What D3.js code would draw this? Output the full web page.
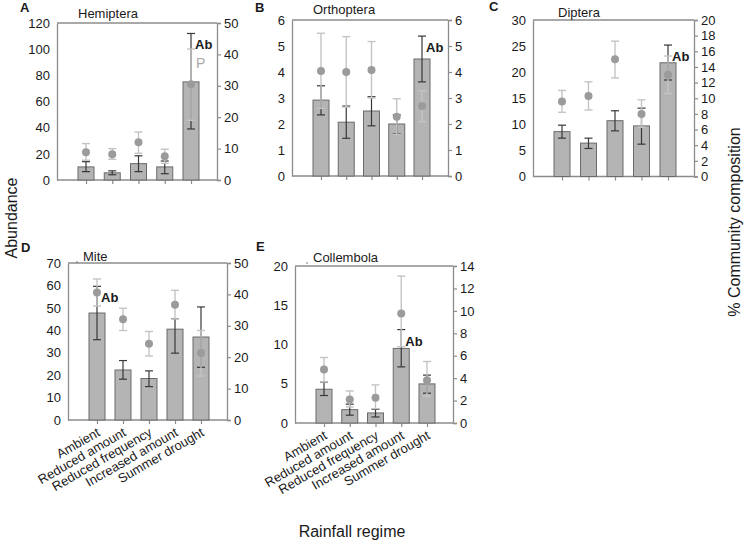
<!DOCTYPE html>
<html><head><meta charset="utf-8">
<script src="https://cdn.jsdelivr.net/npm/d3@7"></script>
<style>
body{margin:0;background:#fff;}
svg text{font-family:"Liberation Sans",Arial,sans-serif;fill:#1a1a1a;}
</style></head>
<body><svg id="c" width="750" height="545"></svg>
<script>
const categories = ["Ambient","Reduced amount","Reduced frequency","Increased amount","Summer drought"];

// Hemiptera
const hemiAbund = [10, 5.5, 12.5, 10, 75];
const hemiAbundLo = [6.4, 4, 6.4, 4.8, 39];
const hemiAbundHi = [14, 7, 18.5, 14.5, 112];
const hemiComp = [8.8, 8.2, 12, 7.6, 30.5];
const hemiCompLo = [6.3, 6.6, 8.5, 5.3, 19];
const hemiCompHi = [11.6, 10, 15.3, 9.8, 41.7];
// Orthoptera
const orthAbund = [2.92, 2.07, 2.5, 2.0, 4.5];
const orthAbundLo = [2.35, 1.45, 1.93, 1.62, 3.62];
const orthAbundHi = [3.47, 2.69, 3.05, 2.35, 5.38];
const orthComp = [4.04, 4.0, 4.08, 2.28, 2.69];
const orthCompLo = [2.6, 2.65, 3.0, 1.6, 2.09];
const orthCompHi = [5.49, 5.36, 5.17, 2.97, 3.28];
// Diptera
const dipAbund = [8.6, 6.4, 10.7, 9.7, 21.8];
const dipAbundLo = [7.35, 5.37, 8.75, 6.2, 18.5];
const dipAbundHi = [9.84, 7.35, 12.6, 13.1, 25.2];
const dipComp = [9.6, 10.3, 15.0, 8.0, 13.0];
const dipCompLo = [8.2, 8.5, 12.6, 6.3, 10.6];
const dipCompHi = [11.0, 12.1, 17.3, 9.8, 15.4];
// Mite
const miteAbund = [47.7, 22.3, 18.5, 40.5, 37];
const miteAbundLo = [35.8, 18.2, 14.9, 29.8, 23.5];
const miteAbundHi = [59.6, 26.5, 21.9, 45.2, 50.4];
const miteComp = [40.6, 32.1, 24.3, 36.7, 21.3];
const miteCompLo = [36.3, 28.5, 20.4, 32.2, 14.0];
const miteCompHi = [44.9, 35.6, 28.2, 41.3, 28.5];
// Collembola
const collAbund = [4.3, 1.7, 1.28, 9.5, 4.98];
const collAbundLo = [3.5, 1.0, 0.77, 7.15, 3.8];
const collAbundHi = [5.2, 2.4, 1.74, 11.9, 6.1];
const collComp = [4.77, 2.09, 2.26, 9.77, 3.81];
const collCompLo = [3.66, 1.43, 1.28, 6.8, 2.38];
const collCompHi = [5.84, 2.86, 3.4, 13.1, 5.48];

const titles = ["Hemiptera","Orthoptera","Diptera","Mite","Collembola"];
const letters = ["A","B","C","D","E"];
const leftMax = [120, 6, 30, 70, 20];
const leftStep = [20, 1, 5, 10, 5];
const rightMax = [50, 6, 20, 50, 14];
const rightStep = [10, 1, 2, 10, 2];
const abLabelBar = [4, 4, 4, 0, 3];

const panelsData = [
  {a:hemiAbund, alo:hemiAbundLo, ahi:hemiAbundHi, c:hemiComp, clo:hemiCompLo, chi:hemiCompHi},
  {a:orthAbund, alo:orthAbundLo, ahi:orthAbundHi, c:orthComp, clo:orthCompLo, chi:orthCompHi},
  {a:dipAbund, alo:dipAbundLo, ahi:dipAbundHi, c:dipComp, clo:dipCompLo, chi:dipCompHi},
  {a:miteAbund, alo:miteAbundLo, ahi:miteAbundHi, c:miteComp, clo:miteCompLo, chi:miteCompHi},
  {a:collAbund, alo:collAbundLo, ahi:collAbundHi, c:collComp, clo:collCompLo, chi:collCompHi}
];

// layout
const layout = [
  {x0:57, x1:217, y0:23, y1:180, tx:78, ty:18, lx:20, ly:12},
  {x0:292, x1:448, y0:20, y1:176, tx:313, ty:14, lx:255, ly:12},
  {x0:533, x1:694, y0:20, y1:176.5, tx:558, ty:17, lx:489, ly:11},
  {x0:68, x1:227, y0:263, y1:420, tx:83, ty:261, lx:21, ly:252},
  {x0:295, x1:453, y0:266, y1:423, tx:313, ty:262, lx:256, ly:251}
];

const svg = d3.select("#c");
const AX = "#8c8c8c";
const BARF = "#b4b4b4", BARS = "#6a6a6a";
const DARK = "#383838", LIGHT = "#c4c4c4", DOT = "#9b9b9b";
const fmt = d3.format("~g");

panelsData.forEach((d, p) => {
  const L = layout[p];
  const g = svg.append("g");
  const x = d3.scalePoint().domain(categories).range([L.x0 + 29, L.x1 - 26]);
  const yl = d3.scaleLinear().domain([0, leftMax[p]]).range([L.y1, L.y0]);
  const yr = d3.scaleLinear().domain([0, rightMax[p]]).range([L.y1, L.y0]);
  const bw = 16, cap = 4;

  // frame top
  g.append("line").attr("x1", L.x0).attr("x2", L.x1).attr("y1", L.y0).attr("y2", L.y0)
    .attr("stroke", AX).attr("stroke-width", 1.3);

  const la = g.append("g").attr("transform", `translate(${L.x0},0)`)
    .call(d3.axisLeft(yl).tickValues(d3.range(0, leftMax[p] + 0.001, leftStep[p])).tickFormat(fmt).tickSize(0).tickPadding(7));
  const ra = g.append("g").attr("transform", `translate(${L.x1},0)`)
    .call(d3.axisRight(yr).tickValues(d3.range(0, rightMax[p] + 0.001, rightStep[p])).tickFormat(fmt).tickSize(4).tickPadding(3));
  const ba = g.append("g").attr("transform", `translate(0,${L.y1})`)
    .call(d3.axisBottom(x).tickSize(4).tickFormat(""));
  ba.select(".domain").attr("d", `M${L.x0},0H${L.x1}`);
  [la, ra, ba].forEach(a => {
    a.select(".domain").attr("stroke", AX).attr("stroke-width", 1.3);
    a.selectAll(".tick line").attr("stroke", AX).attr("stroke-width", 1.2);
    a.selectAll(".tick text").attr("font-size", 13).attr("fill", "#1a1a1a")
      .style("font-family", '"Liberation Sans",Arial,sans-serif');
  });

  g.selectAll(".bar").data(categories).enter().append("rect")
    .attr("x", (c) => x(c) - bw / 2).attr("width", bw)
    .attr("y", (c, i) => yl(d.a[i])).attr("height", (c, i) => L.y1 - yl(d.a[i]))
    .attr("fill", BARF).attr("stroke", BARS).attr("stroke-width", 1);

  categories.forEach((c, i) => {
    const cx = x(c);
    const e = g.append("g").attr("stroke", DARK).attr("stroke-width", 1.2);
    e.append("line").attr("x1", cx).attr("x2", cx).attr("y1", yl(d.alo[i])).attr("y2", yl(d.ahi[i]));
    e.append("line").attr("x1", cx - cap).attr("x2", cx + cap).attr("y1", yl(d.alo[i])).attr("y2", yl(d.alo[i]));
    e.append("line").attr("x1", cx - cap).attr("x2", cx + cap).attr("y1", yl(d.ahi[i])).attr("y2", yl(d.ahi[i]));
  });
  categories.forEach((c, i) => {
    const cx = x(c);
    const e = g.append("g").attr("stroke", LIGHT).attr("stroke-width", 1.4);
    e.append("line").attr("x1", cx).attr("x2", cx).attr("y1", yr(d.clo[i])).attr("y2", yr(d.chi[i]));
    e.append("line").attr("x1", cx - cap).attr("x2", cx + cap).attr("y1", yr(d.clo[i])).attr("y2", yr(d.clo[i]));
    e.append("line").attr("x1", cx - cap).attr("x2", cx + cap).attr("y1", yr(d.chi[i])).attr("y2", yr(d.chi[i]));
  });
  g.selectAll(".dot").data(categories).enter().append("circle")
    .attr("cx", c => x(c)).attr("cy", (c, i) => yr(d.c[i])).attr("r", 4)
    .attr("fill", DOT);

  const ai = abLabelBar[p];
  g.append("text").attr("x", x(categories[ai]) + 4).attr("y", yl(d.ahi[ai]) + 16)
    .attr("font-size", 13).attr("font-weight", "bold").text("Ab");
  if (p === 0) {
    g.append("text").attr("x", x(categories[4]) + 5).attr("y", yr(d.chi[4]) + 19)
      .attr("font-size", 14).style("fill", "#a8a8a8").text("P");
  }

  g.append("text").attr("x", L.tx).attr("y", L.ty).attr("font-size", 13).text(titles[p]);
  if (p >= 3) {
    g.append("circle").attr("cx", L.tx - 6).attr("cy", L.ty + 1).attr("r", 0.7).attr("fill", "#555");
  }
  g.append("text").attr("x", L.lx).attr("y", L.ly).attr("font-size", 13).attr("font-weight", "bold").text(letters[p]);

  if (p >= 3) {
    g.selectAll(".xl").data(categories).enter().append("text")
      .attr("transform", c => `translate(${x(c) + 4},${L.y1 + 15}) rotate(-30)`)
      .attr("text-anchor", "end").attr("font-size", 13).text(c => c);
  }
});

svg.append("text").attr("transform", "translate(17,218) rotate(-90)").attr("text-anchor", "middle")
  .attr("font-size", 16).text("Abundance");
svg.append("text").attr("transform", "translate(740,222) rotate(-90)").attr("text-anchor", "middle")
  .attr("font-size", 16).text("% Community composition");
svg.append("text").attr("x", 352).attr("y", 537).attr("text-anchor", "middle")
  .attr("font-size", 16).text("Rainfall regime");
</script></body></html>
